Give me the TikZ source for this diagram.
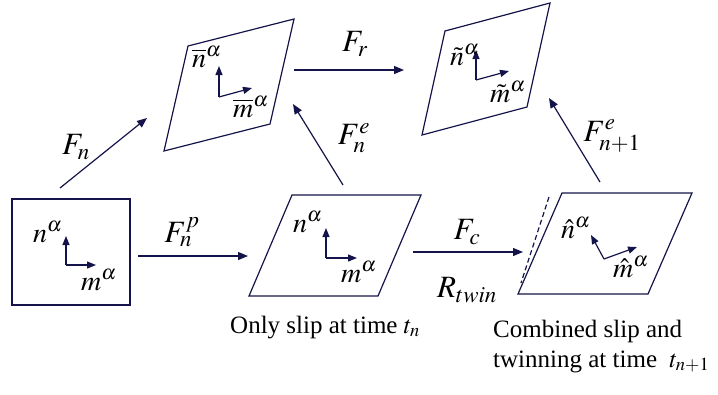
\documentclass[tikz,border=0pt]{standalone}
\usepackage{mathptmx}
\usepackage{fontspec}
\setmainfont{Liberation Serif}
\usetikzlibrary{arrows.meta}
\definecolor{navy}{HTML}{14144A}
\begin{document}
\begin{tikzpicture}[x=1pt,y=-1pt,
  edge/.style={draw=navy,line width=1.2pt},
  conn/.style={navy,line width=1.2pt,-{Triangle[length=10pt,width=8pt]}},
  vec/.style={navy,line width=1.2pt,-{Triangle[length=9pt,width=7pt]}},
  lab/.style={inner sep=0pt,font=\fontsize{31}{33}\selectfont},
  sym/.style={inner sep=0pt,anchor=base west,font=\fontsize{28}{30}\selectfont},
  captxt/.style={inner sep=0pt,anchor=base west,font=\fontsize{25}{30}\selectfont}]
\useasboundingbox (0,0) rectangle (718,394);
% shapes
\draw[edge] (12,199) rectangle (130,305);
\draw[edge] (164,151) -- (188,46) -- (294,19) -- (270,124) -- cycle;
\draw[edge] (422,135) -- (445,31) -- (550,3) -- (527,107) -- cycle;
\draw[edge] (249,296) -- (292,195) -- (421,195) -- (378,296) -- cycle;
\draw[edge] (518,294) -- (562,193) -- (692,193) -- (648,294) -- cycle;
\draw[navy,line width=1.2pt,dash pattern=on 5pt off 3pt] (549,197) -- (521,283);
% connector end points
\coordinate (a1) at (60,188);  \coordinate (a2) at (147,118);
\coordinate (b1) at (294,70);  \coordinate (b2) at (404,70);
\coordinate (c1) at (343,185); \coordinate (c2) at (293,104);
\coordinate (d1) at (600,182); \coordinate (d2) at (549,98);
\coordinate (e1) at (138,256); \coordinate (e2) at (248,256);
\coordinate (f1) at (413,252); \coordinate (f2) at (523,252);
\draw[conn] (a1) -- (a2);
\draw[conn] (b1) -- (b2);
\draw[conn] (c1) -- (c2);
\draw[conn] (d1) -- (d2);
\draw[conn] (e1) -- (e2);
\draw[conn] (f1) -- (f2);
% vectors
\coordinate (o1) at (66,265);
\draw[vec] (o1) -- (66,236); \draw[vec] (o1) -- (96,265);
\coordinate (o2) at (219,97);
\draw[vec] (o2) -- (219,66); \draw[vec] (o2) -- (252,88);
\coordinate (o3) at (476,80);
\draw[vec] (o3) -- (476,50); \draw[vec] (o3) -- (509,71);
\coordinate (o4) at (326,258);
\draw[vec] (o4) -- (326,228); \draw[vec] (o4) -- (357,258);
\coordinate (o5) at (604,259);
\draw[vec] (o5) -- (591,235); \draw[vec] (o5) -- (637,247);
% vector labels
\node[sym] (n1) at (33,242) {$n^{\alpha}$};
\node[sym] (m1) at (81,290) {$m^{\alpha}$};
\node[sym] (n2) at (192,67) {$\overline{n}^{\alpha}$};
\node[sym] (m2) at (233,117) {$\overline{m}^{\alpha}$};
\node[sym] (n3) at (450,65) {$\tilde{n}^{\alpha}$};
\node[sym] (m3) at (490,102) {$\tilde{m}^{\alpha}$};
\node[sym] (n4) at (293,232) {$n^{\alpha}$};
\node[sym] (m4) at (341,282) {$m^{\alpha}$};
\node[sym] (n5) at (561,238) {$\hat{n}^{\alpha}$};
\node[sym] (m5) at (613,277) {$\hat{m}^{\alpha}$};
% connector labels
\node[lab] (la) at (76,147) {$F_{n}$};
\node[lab] (lb) at (355,44) {$F_{r}$};
\node[lab] (lc) at (354,138) {$F_{n}^{e}$};
\node[lab] (ld) at (612,136) {$F_{n+1}^{e}$};
\node[lab] (le) at (182,232) {$F_{n}^{p}$};
\node[lab] (lf) at (467,232) {$F_{c}$};
\node[lab] (lg) at (467,290) {$R_{twin}$};
% captions
\node[captxt] (c1t) at (230,333) {Only slip at time $t_{n}$};
\node[captxt] (c2t) at (493,337) {Combined slip and};
\node[captxt] (c3t) at (493,367) {twinning at time \ $t_{n+1}$};
\end{tikzpicture}
\end{document}
